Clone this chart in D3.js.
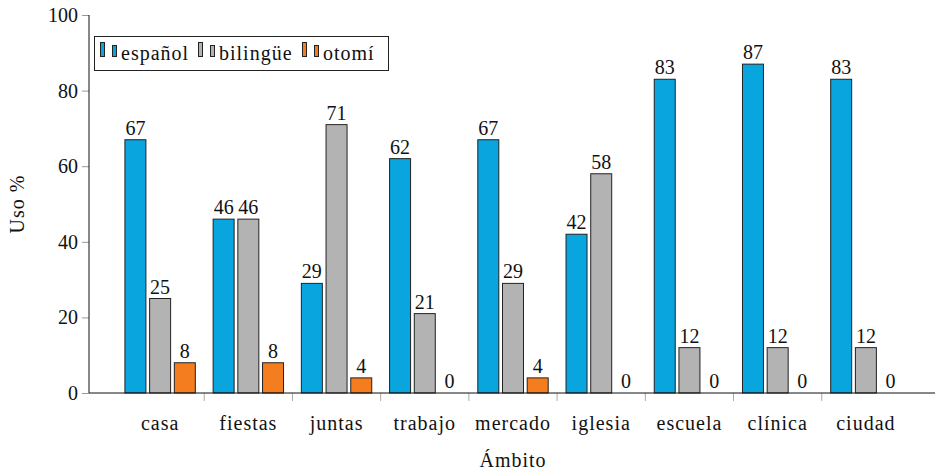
<!DOCTYPE html>
<html>
<head>
<meta charset="utf-8">
<script src="https://cdn.jsdelivr.net/npm/d3@7"></script>
<style>
  body { margin: 0; background: #fff; }
  svg text { font-family: 'Liberation Serif', 'Times New Roman', Times, serif; fill: #111; }
  svg text.word { letter-spacing: 1px; }
</style>
</head>
<body>
<svg id="chart" width="935" height="473"></svg>
<script>
// categories (ámbito) and series
var ambitos = ["casa", "fiestas", "juntas", "trabajo", "mercado", "iglesia", "escuela", "clínica", "ciudad"];
var series = ["español", "bilingüe", "otomí"];
var espanol  = [67, 46, 29, 62, 67, 42, 83, 87, 83];
var bilingue = [25, 46, 71, 21, 29, 58, 12, 12, 12];
var otomi    = [8, 8, 4, 0, 4, 0, 0, 0, 0];
var yTicks = [0, 20, 40, 60, 80, 100];

var colors = { "español": "#08a5de", "bilingüe": "#b3b3b3", "otomí": "#f47d20" };
var values = { "español": espanol, "bilingüe": bilingue, "otomí": otomi };
var FONT = "'Liberation Serif', 'Times New Roman', Times, serif";

var svg = d3.select("#chart");

// axis frame
var plotL = 89, plotR = 937, plotT = 15, plotB = 393;

var x = d3.scaleBand()
    .domain(ambitos)
    .range([116, 910]);

var xs = d3.scaleBand()
    .domain(series)
    .range([-37.05, 37.05])
    .paddingInner(0.15)
    .paddingOuter(0.075);

var y = d3.scaleLinear()
    .domain([0, 100])
    .range([plotB, plotT]);

// flatten rows for the data join
var rows = [];
ambitos.forEach(function(a, i) {
  series.forEach(function(s) {
    rows.push({ ambito: a, serie: s, value: values[s][i] });
  });
});

// bars
var g = svg.append("g");
g.selectAll("rect.bar")
  .data(rows.filter(function(d) { return d.value > 0; }))
  .enter().append("rect")
    .attr("class", "bar")
    .attr("x", function(d) { return x(d.ambito) + x.bandwidth() / 2 + xs(d.serie); })
    .attr("y", function(d) { return y(d.value); })
    .attr("width", xs.bandwidth())
    .attr("height", function(d) { return y(0) - y(d.value); })
    .attr("fill", function(d) { return colors[d.serie]; })
    .attr("stroke", "#222")
    .attr("stroke-width", 1);

// value labels
g.selectAll("text.val")
  .data(rows)
  .enter().append("text")
    .attr("class", "val")
    .attr("x", function(d) { return x(d.ambito) + x.bandwidth() / 2 + xs(d.serie) + xs.bandwidth() / 2; })
    .attr("y", function(d) { return y(d.value) - 5; })
    .attr("text-anchor", "middle")
    .style("font-family", FONT)
    .style("font-size", "20px")
    .text(function(d) { return d.value; });

// y axis
var yAxis = svg.append("g")
    .attr("transform", "translate(" + plotL + ",0)")
    .call(d3.axisLeft(y).tickValues(yTicks).tickSize(7).tickPadding(4));
yAxis.select(".domain").remove();
yAxis.selectAll(".tick line").attr("stroke", "#999");
yAxis.selectAll(".tick text")
    .style("font-family", FONT)
    .style("font-size", "20px")
    .attr("fill", "#111");
svg.append("line")
    .attr("x1", plotL).attr("x2", plotL)
    .attr("y1", plotT).attr("y2", plotB)
    .attr("stroke", "#111");

// x axis: labels at centres, separators between categories
var xAxis = svg.append("g")
    .attr("transform", "translate(0," + plotB + ")")
    .call(d3.axisBottom(x).tickSize(0).tickPadding(23));
xAxis.select(".domain").remove();
xAxis.selectAll(".tick text")
    .attr("class", "word")
    .style("font-family", FONT)
    .style("font-size", "20px")
    .attr("fill", "#111");
svg.selectAll("line.sep")
  .data(ambitos.slice(1))
  .enter().append("line")
    .attr("class", "sep")
    .attr("x1", function(d) { return x(d); })
    .attr("x2", function(d) { return x(d); })
    .attr("y1", plotB).attr("y2", plotB + 8)
    .attr("stroke", "#aaa");
svg.append("line")
    .attr("x1", plotL).attr("x2", plotR)
    .attr("y1", plotB).attr("y2", plotB)
    .attr("stroke", "#111");

// axis titles
svg.append("text")
    .attr("class", "word")
    .attr("transform", "translate(24," + ((plotT + plotB) / 2) + ") rotate(-90)")
    .attr("text-anchor", "middle")
    .style("font-family", FONT)
    .style("font-size", "20px")
    .text("Uso %");
svg.append("text")
    .attr("class", "word")
    .attr("x", (plotL + plotR) / 2)
    .attr("y", 467)
    .attr("text-anchor", "middle")
    .style("font-family", FONT)
    .style("font-size", "20px")
    .text("Ámbito");

// legend
var legendX = [100, 198, 302];
var legend = svg.append("g");
legend.append("rect")
    .attr("x", 94.5).attr("y", 36.5)
    .attr("width", 294).attr("height", 34)
    .attr("fill", "#fff")
    .attr("stroke", "#222");
series.forEach(function(s, i) {
  var lx = legendX[i];
  legend.append("rect")
      .attr("x", lx + 0.5).attr("y", 42.5)
      .attr("width", 4).attr("height", 14)
      .attr("fill", colors[s]).attr("stroke", "#222");
  legend.append("rect")
      .attr("x", lx + 12.5).attr("y", 45.5)
      .attr("width", 4).attr("height", 11)
      .attr("fill", colors[s]).attr("stroke", "#222");
  legend.append("text")
      .attr("class", "word")
      .attr("x", lx + 21)
      .attr("y", 60)
      .style("font-family", FONT)
      .style("font-size", "20px")
      .text(s);
});
</script>
</body>
</html>
